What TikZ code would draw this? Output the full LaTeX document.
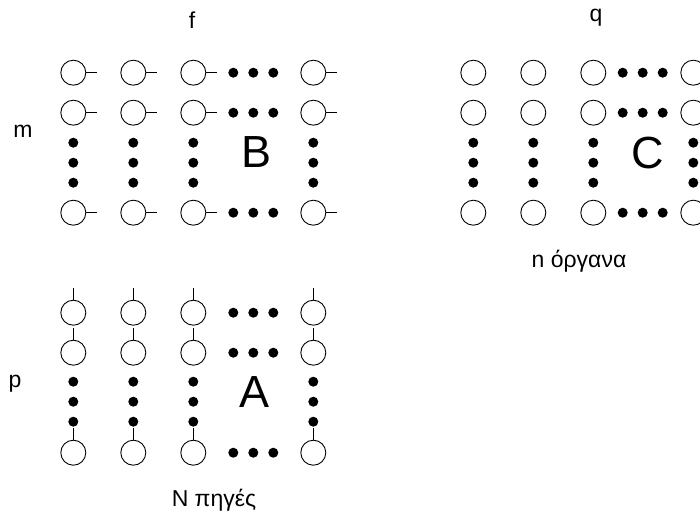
\documentclass[tikz,border=0pt]{standalone}
\usepackage{fontspec}
\setmainfont{Liberation Sans}
\usetikzlibrary{positioning}
\tikzset{%
	elem/.style  = {draw, circle, minimum size=25pt, inner sep=0pt, line width=0.9pt}, % sensor / element
	dot/.style   = {fill, circle, minimum size=10pt, inner sep=0pt}, % ellipsis dot
	stub/.style  = {line width=0.9pt},
	dim/.style   = {font=\fontsize{23}{27}\selectfont},
	big/.style   = {font=\fontsize{45}{50}\selectfont},
}

\begin{document}
\begin{tikzpicture}[x=1pt,y=-1pt]
	\useasboundingbox (0,0) rectangle (700,513);

	% block B
	\foreach \r/\y in {1/72.7,2/112.7,4/212.7} {
		\foreach \c/\x in {1/73.3,2/133.3,3/193.3,4/313.3} {
			\node [elem] (B\r\c) at (\x,\y) {};
			\draw[stub] (B\r\c.east) -- ++(11,0);
		}
		\foreach \d/\x in {1/233.3,2/253.3,3/273.3}
			\node [dot] (Bh\r\d) at (\x,\y) {};
	}
	\foreach \c/\x in {1/73.3,2/133.3,3/193.3,4/313.3}
		\foreach \d/\y in {1/142.7,2/162.7,3/182.7}
			\node [dot] (Bv\d\c) at (\x,\y) {};
	\node [big] (B) at (257,152) {B};
	\node [dim] (f) at (192,20) {f};
	\node [dim] (m) at (23,131) {m};

	% block C
	\foreach \r/\y in {1/72.7,2/112.7,4/212.7} {
		\foreach \c/\x in {1/473.3,2/533.3,3/593.3,4/693.3}
			\node [elem] (C\r\c) at (\x,\y) {};
		\foreach \d/\x in {1/622.7,2/642.7,3/662.7}
			\node [dot] (Ch\r\d) at (\x,\y) {};
	}
	\foreach \c/\x in {1/473.3,2/533.3,3/593.3,4/693.3}
		\foreach \d/\y in {1/142.7,2/162.7,3/182.7}
			\node [dot] (Cv\d\c) at (\x,\y) {};
	\node [big] (C) at (648,153) {C};
	\node [dim] (q) at (596,18) {q};
	\node [dim] (nins) at (579,261) {n όργανα};

	% block A
	\foreach \r/\y in {1/312.7,2/352.7,4/452.7} {
		\foreach \c/\x in {1/73.3,2/133.3,3/193.3,4/313.3} {
			\node [elem] (A\r\c) at (\x,\y) {};
			\draw[stub] (A\r\c.north) -- ++(0,-12);
		}
		\foreach \d/\x in {1/233.3,2/253.3,3/273.3}
			\node [dot] (Ah\r\d) at (\x,\y) {};
	}
	\foreach \c/\x in {1/73.3,2/133.3,3/193.3,4/313.3}
		\foreach \d/\y in {1/381.7,2/401.7,3/421.7}
			\node [dot] (Av\d\c) at (\x,\y) {};
	\node [big] (A) at (255,392) {A};
	\node [dim] (p) at (15,384) {p};
	\node [dim] (nsrc) at (214,500) {N πηγές};
\end{tikzpicture}
\end{document}
